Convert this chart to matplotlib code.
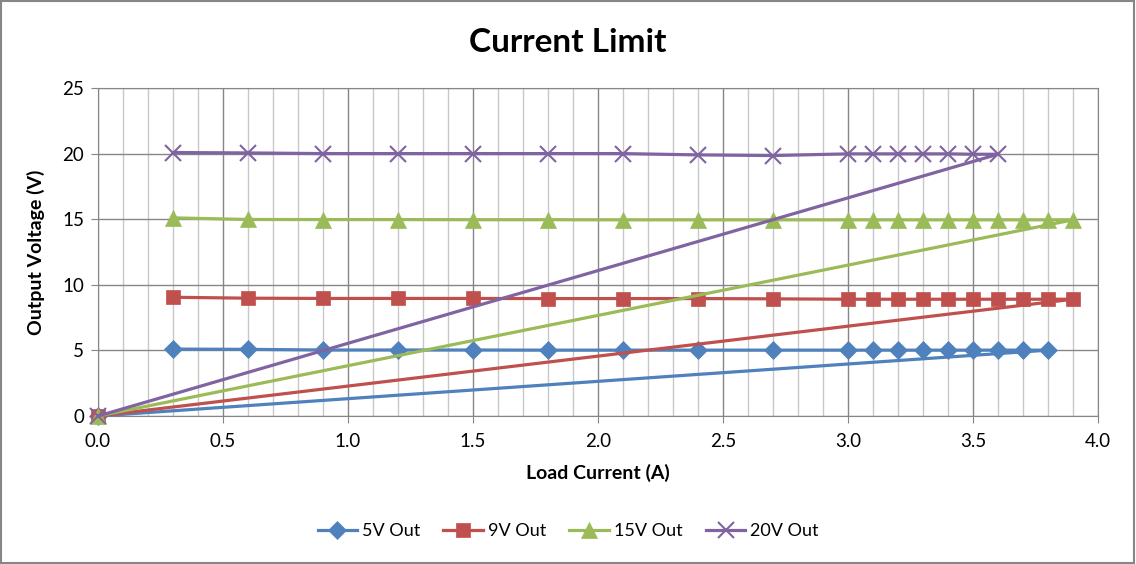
import matplotlib
matplotlib.use("Agg")
import matplotlib.pyplot as plt
from matplotlib.ticker import MultipleLocator
from matplotlib.patches import Rectangle

plt.rcParams['font.family'] = ['Lato', 'DejaVu Sans']

# load current (A), last point is the fold-back to 0
i_5v = [0.3, 0.6, 0.9, 1.2, 1.5, 1.8, 2.1, 2.4, 2.7, 3.0, 3.1, 3.2, 3.3, 3.4, 3.5, 3.6, 3.7, 3.8, 0.0]
v_5v = [5.1, 5.08, 5.03, 5.03, 5.03, 5.02, 5.02, 5.02, 5.02, 5.02, 5.02, 5.02, 5.02, 5.02, 5.02, 5.02, 5.02, 5.02, 0.0]

i_9v = [0.3, 0.6, 0.9, 1.2, 1.5, 1.8, 2.1, 2.4, 2.7, 3.0, 3.1, 3.2, 3.3, 3.4, 3.5, 3.6, 3.7, 3.8, 3.9, 0.0]
v_9v = [9.05, 8.98, 8.96, 8.96, 8.96, 8.95, 8.95, 8.95, 8.93, 8.9, 8.9, 8.9, 8.9, 8.9, 8.9, 8.9, 8.9, 8.9, 8.9, 0.0]

i_15v = [0.3, 0.6, 0.9, 1.2, 1.5, 1.8, 2.1, 2.4, 2.7, 3.0, 3.1, 3.2, 3.3, 3.4, 3.5, 3.6, 3.7, 3.8, 3.9, 0.0]
v_15v = [15.1, 14.98, 14.97, 14.97, 14.96, 14.96, 14.95, 14.95, 14.95, 14.95, 14.95, 14.95, 14.95, 14.95, 14.95, 14.95, 14.95, 14.95, 14.95, 0.0]

i_20v = [0.3, 0.6, 0.9, 1.2, 1.5, 1.8, 2.1, 2.4, 2.7, 3.0, 3.1, 3.2, 3.3, 3.4, 3.5, 3.6, 0.0]
v_20v = [20.08, 20.05, 20.0, 20.0, 20.0, 20.0, 20.0, 19.9, 19.85, 19.98, 19.98, 19.98, 19.98, 19.98, 19.95, 19.95, 0.0]

series = [
    (i_5v, v_5v, "5V Out", "#4F81BD", "D", 9),
    (i_9v, v_9v, "9V Out", "#C0504D", "s", 10),
    (i_15v, v_15v, "15V Out", "#9BBB59", "^", 11),
    (i_20v, v_20v, "20V Out", "#8064A2", "x", 11),
]

fig = plt.figure(figsize=(11.36, 5.64), dpi=100)
ax = fig.add_axes([0.0863, 0.2624, 0.8802, 0.5816])

for x, y, name, col, mk, ms in series:
    ax.plot(x, y, color=col, lw=2.3, marker=mk, markersize=ms,
            markeredgewidth=1.5 if mk == "x" else 0.5, markeredgecolor=col,
            label=name, clip_on=False, zorder=3)

ax.set_xlim(0, 4.0)
ax.set_ylim(0, 25)
ax.xaxis.set_major_locator(MultipleLocator(0.5))
ax.xaxis.set_minor_locator(MultipleLocator(0.1))
ax.yaxis.set_major_locator(MultipleLocator(5))
ax.xaxis.set_major_formatter(matplotlib.ticker.FormatStrFormatter("%.1f"))
ax.grid(which="major", color="#868686", lw=1.0)
ax.grid(which="minor", axis="x", color="#C8C8C8", lw=1.0)
ax.set_axisbelow(True)
for s in ax.spines.values():
    s.set_color("#868686")
ax.tick_params(which="major", length=5, color="#868686", labelsize=13.5)
ax.tick_params(axis="x", pad=7)
ax.tick_params(axis="y", pad=5)
ax.tick_params(which="minor", length=0)

ax.set_xlabel("Load Current (A)", fontsize=14, fontweight="bold", labelpad=10)
ax.set_ylabel("Output Voltage (V)", fontsize=14, fontweight="bold", labelpad=12)
fig.text(0.5, 0.925, "Current Limit", ha="center", va="center", fontsize=24, fontweight="bold")

fig.legend(loc="center", bbox_to_anchor=(0.5, 0.058), ncol=4, frameon=False,
           fontsize=13, handlelength=2.2, columnspacing=1.3, handletextpad=0.25)

fig.patches.append(Rectangle((0.001, 0.002), 0.997, 0.996, transform=fig.transFigure,
                             fill=False, edgecolor="#868686", lw=1.5))

fig.savefig("out.png", dpi=100)
